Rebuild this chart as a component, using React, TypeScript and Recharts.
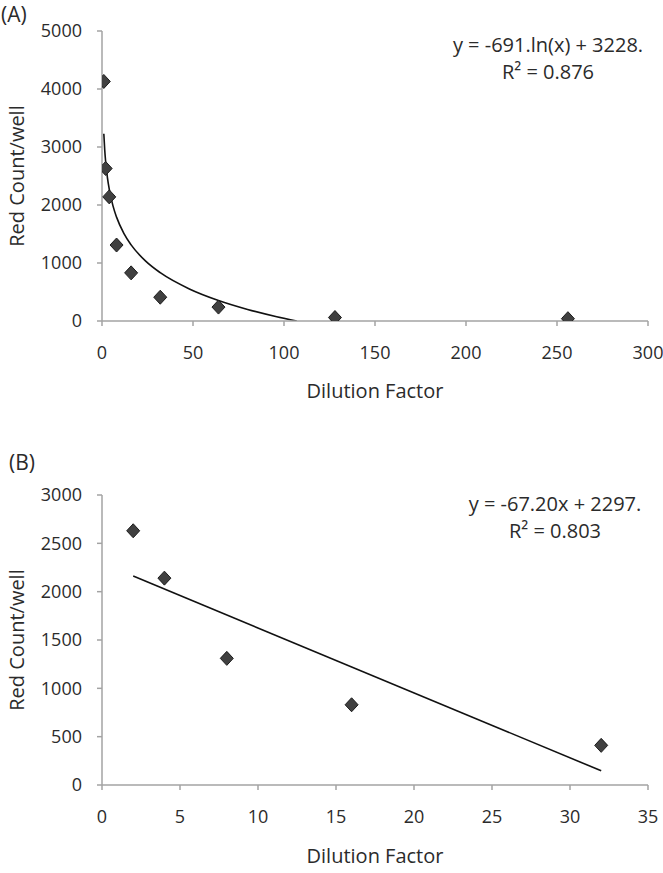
import React from 'react';
import { ComposedChart, Scatter, Line, XAxis, YAxis, Label } from 'recharts';

// Panel A data
const dilutionA = [1, 2, 4, 8, 16, 32, 64, 128, 256];
const countA = [4130, 2630, 2140, 1310, 830, 410, 240, 60, 40];
const trendAX = [1, 1.5, 2, 3, 4, 6, 8, 12, 16, 24, 32, 48, 64, 80, 96, 107];
const trendAY = [3228, 2948, 2749, 2469, 2270, 1990, 1791, 1511, 1312, 1032, 833, 553, 354, 200, 74, 0];

// Panel B data
const dilutionB = [2, 4, 8, 16, 32];
const countB = [2630, 2140, 1310, 830, 410];
const trendBX = [2, 32];
const trendBY = [2162, 147];

const ticksAX = [0, 50, 100, 150, 200, 250, 300];
const ticksAY = [0, 1000, 2000, 3000, 4000, 5000];
const ticksBX = [0, 5, 10, 15, 20, 25, 30, 35];
const ticksBY = [0, 500, 1000, 1500, 2000, 2500, 3000];

const eqA = ['y = -691.ln(x) + 3228.', 'R\u00B2 = 0.876'];
const eqB = ['y = -67.20x + 2297.', 'R\u00B2 = 0.803'];
const xTitle = 'Dilution Factor';
const yTitle = 'Red Count/well';

const zip = (xs: number[], ys: number[]) => xs.map((x, i) => ({ x, y: ys[i] }));

const FONT = '"Open Sans", sans-serif';
const AXIS = '#a3a3a3';
const TXT = '#2b2b2b';

const Diamond = (props: any) => {
  const { cx, cy } = props;
  if (cx == null || cy == null) return null;
  const w = 6.5;
  const h = 7;
  return (
    <polygon
      points={`${cx},${cy - h} ${cx + w},${cy} ${cx},${cy + h} ${cx - w},${cy}`}
      fill="#404040"
      stroke="#1c1c1c"
      strokeWidth={1}
    />
  );
};

type PanelProps = {
  width: number;
  height: number;
  top: number;
  xAxisHeight: number;
  xDomain: [number, number];
  yDomain: [number, number];
  xTicks: number[];
  yTicks: number[];
  pts: { x: number; y: number }[];
  trend: { x: number; y: number }[];
  trendType: 'monotone' | 'linear';
  xTitleOffset: number;
};

const Panel = (p: PanelProps) => (
  <ComposedChart
    width={p.width}
    height={p.height}
    margin={{ top: p.top, right: 15, bottom: 0, left: 0 }}
  >
    <XAxis
      type="number"
      dataKey="x"
      domain={p.xDomain}
      ticks={p.xTicks}
      allowDataOverflow
      height={p.xAxisHeight}
      stroke={AXIS}
      strokeWidth={1.5}
      tickSize={5}
      tickMargin={20}
      tick={{ fontSize: 18, fill: TXT, fontFamily: FONT }}
      tickLine={{ stroke: AXIS, strokeWidth: 1.5 }}
    >
      <Label
        value={xTitle}
        position="insideBottom"
        offset={p.xTitleOffset}
        style={{ fontSize: 20, fill: TXT, fontFamily: FONT }}
      />
    </XAxis>
    <YAxis
      type="number"
      dataKey="y"
      domain={p.yDomain}
      ticks={p.yTicks}
      allowDataOverflow
      width={102}
      stroke={AXIS}
      strokeWidth={1.5}
      tickSize={5}
      tickMargin={15}
      tick={{ fontSize: 18, fill: TXT, fontFamily: FONT }}
      tickLine={{ stroke: AXIS, strokeWidth: 1.5 }}
    >
      <Label
        value={yTitle}
        angle={-90}
        position="insideLeft"
        offset={17}
        style={{ fontSize: 20, fill: TXT, fontFamily: FONT, textAnchor: 'middle' }}
      />
    </YAxis>
    <Line
      data={p.trend}
      dataKey="y"
      type={p.trendType}
      dot={false}
      activeDot={false}
      stroke="#111"
      strokeWidth={1.6}
      isAnimationActive={false}
    />
    <Scatter data={p.pts} shape={Diamond} isAnimationActive={false} />
  </ComposedChart>
);

const EqText = ({ lines, cx, y1, y2 }: { lines: string[]; cx: number; y1: number; y2: number }) => (
  <>
    <text x={cx} y={y1} textAnchor="middle" fontSize={20} fill={TXT} fontFamily={FONT}>
      {lines[0]}
    </text>
    <text x={cx} y={y2} textAnchor="middle" fontSize={20} fill={TXT} fontFamily={FONT}>
      {lines[1]}
    </text>
  </>
);

export default function App() {
  return (
    <div style={{ position: 'absolute', left: 0, top: 0, width: 663, height: 873, background: '#fff' }}>
      <div style={{ position: 'absolute', left: 0, top: 0 }}>
        <Panel
          width={663}
          height={420}
          top={31}
          xAxisHeight={99}
          xDomain={[0, 300]}
          yDomain={[0, 5000]}
          xTicks={ticksAX}
          yTicks={ticksAY}
          pts={zip(dilutionA, countA)}
          trend={zip(trendAX, trendAY)}
          trendType="monotone"
          xTitleOffset={22}
        />
      </div>
      <div style={{ position: 'absolute', left: 0, top: 420 }}>
        <Panel
          width={663}
          height={453}
          top={75}
          xAxisHeight={88}
          xDomain={[0, 35]}
          yDomain={[0, 3000]}
          xTicks={ticksBX}
          yTicks={ticksBY}
          pts={zip(dilutionB, countB)}
          trend={zip(trendBX, trendBY)}
          trendType="linear"
          xTitleOffset={10}
        />
      </div>
      <svg
        width={663}
        height={873}
        style={{ position: 'absolute', left: 0, top: 0, pointerEvents: 'none' }}
      >
        <text x={1} y={22} fontSize={21} fill={TXT} fontFamily={FONT}>(A)</text>
        <text x={9} y={470} fontSize={21} fill={TXT} fontFamily={FONT}>(B)</text>
        <EqText lines={eqA} cx={548} y1={52} y2={79} />
        <EqText lines={eqB} cx={555} y1={511} y2={538} />
      </svg>
    </div>
  );
}
